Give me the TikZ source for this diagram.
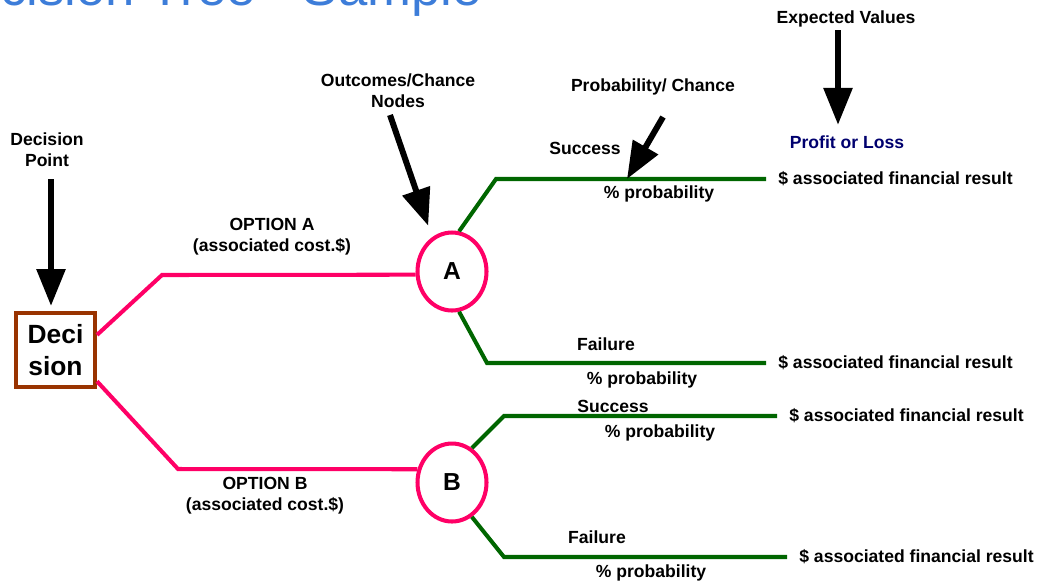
\documentclass[tikz,border=0pt]{standalone}
\usepackage{fontspec}
\setmainfont{Liberation Sans}
\usetikzlibrary{arrows.meta,shapes.geometric}
\definecolor{titleblue}{RGB}{61,125,217}
\definecolor{optpink}{RGB}{255,0,102}
\definecolor{outgreen}{RGB}{0,102,0}
\definecolor{decbrown}{RGB}{153,51,0}
\definecolor{lossnavy}{RGB}{0,0,110}
\begin{document}
\begin{tikzpicture}[x=0.02cm, y=-0.02cm,
    lbl/.style={font=\bfseries\fontsize{10}{12}\selectfont, align=center},
    result/.style={lbl, anchor=west, inner xsep=0.24cm},
    optline/.style={draw=optpink, line width=2.3pt},
    outline/.style={draw=outgreen, line width=2.3pt},
    chance/.style={ellipse, draw=optpink, fill=white, line width=2.3pt, minimum width=1.38cm,
      minimum height=1.56cm, font=\bfseries\fontsize{14}{16}\selectfont},
    pointer/.style={line width=3.4pt, -{Triangle[width=0.56cm,length=0.74cm]}}]
      \useasboundingbox (0,0) rectangle (1037,583);
      \clip (0,0) rectangle (1037,583);

      \node[anchor=base east, text=titleblue, font=\fontsize{30}{36}\selectfont] (title) at (488,5) {Decision Tree - Sample};

      \node[draw=decbrown, fill=white, line width=2.3pt, minimum width=1.58cm, minimum height=1.48cm,
        font=\bfseries\fontsize{15}{18}\selectfont, align=center] (dec) at (55.5,350) {Deci\\sion};
      \node[chance] (A) at (452,271.5) {A};
      \node[chance] (B) at (452,482.5) {B};

      \node[lbl] (dp) at (47,150) {Decision\\Point};
      \node[lbl] (optA) at (272,237) {OPTION A\\(associated cost.\$)};
      \node[lbl] (optB) at (265,495.5) {OPTION B\\(associated cost.\$)};
      \node[lbl] (oc) at (398,91) {Outcomes/Chance\\Nodes};
      \node[lbl] (pc) at (653,87) {Probability/ Chance};
      \node[lbl] (ev) at (846,19) {Expected Values};
      \node[lbl, text=lossnavy] (pl) at (847,142) {Profit or Loss};

      \node[result] (rA1) at (766,179) {\$ associated financial result};
      \node[result] (rA2) at (766,363) {\$ associated financial result};
      \node[result] (rB1) at (777,416) {\$ associated financial result};
      \node[result] (rB2) at (787,557) {\$ associated financial result};

      \node[lbl] (sA) at (585,148) {Success}; \node[lbl] (pA1) at (659,194) {\% probability};
      \node[lbl] (fA) at (606,344) {Failure}; \node[lbl] (pA2) at (642,380) {\% probability};
      \node[lbl] (sB) at (613,406) {Success}; \node[lbl] (pB1) at (660,433) {\% probability};
      \node[lbl] (fB) at (597,537) {Failure}; \node[lbl] (pB2) at (651,573) {\% probability};

      \draw[optline] (dec.20) -- (162,275) -- (A.185);
      \draw[optline] (dec.-37) -- (178,469) -- (B.159);

      \draw[outline] (A.80) -- (496,179) -- (rA1.west);
      \draw[outline] (A.-80) -- (487,363) -- (rA2.west);
      \draw[outline] (B.60) -- (504,416) -- (rB1.west);
      \draw[outline] (B.-60) -- (504,557) -- (rB2.west);

      \coordinate (dpTail) at (51,179);
      \coordinate (ocTail) at (390,115);
      \coordinate (pcTail) at (663,117);
      \coordinate (hit) at (627,179);
      \coordinate (evTail) at (838,30);
      \draw[pointer, shorten >=0.1cm] (dpTail) -- (dpTail |- dec.north);
      \draw[pointer, shorten >=0.24cm] (ocTail) -- (A.120);
      \draw[pointer] (pcTail) -- (hit);
      \draw[pointer, shorten >=0.09cm] (evTail) -- (evTail |- pl.north);
    \end{tikzpicture}
\end{document}
